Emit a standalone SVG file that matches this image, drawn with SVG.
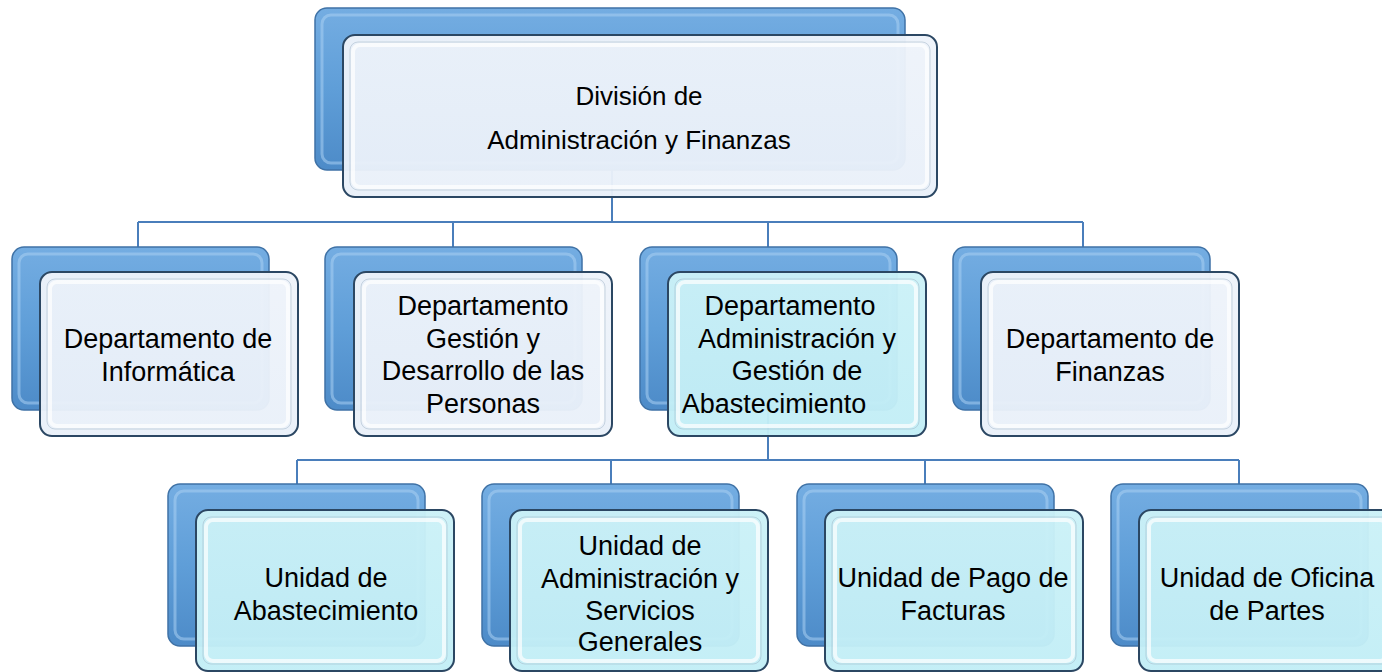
<svg xmlns="http://www.w3.org/2000/svg" width="1382" height="672" viewBox="0 0 1382 672">
<defs>
<linearGradient id="gBack" x1="0" y1="0" x2="0" y2="1">
<stop offset="0" stop-color="#74ade2"/>
<stop offset="0.5" stop-color="#5f9ed8"/>
<stop offset="1" stop-color="#4d8bc8"/>
</linearGradient>
<linearGradient id="gPale" x1="0" y1="0" x2="0" y2="1">
<stop offset="0" stop-color="#eef3fa"/>
<stop offset="1" stop-color="#e9f0f9"/>
</linearGradient>
<linearGradient id="gCyan" x1="0" y1="0" x2="0" y2="1">
<stop offset="0" stop-color="#cbf1f7"/>
<stop offset="1" stop-color="#c2eef6"/>
</linearGradient>
<style>
.back{fill:url(#gBack);stroke:#3f72a6;stroke-width:1.5}
.backhi{fill:none;stroke:#a9d0f2;stroke-width:3;opacity:0.55}
.frontP{fill:url(#gPale);fill-opacity:0.96;stroke:#2b4763;stroke-width:2}
.frontC{fill:url(#gCyan);fill-opacity:0.96;stroke:#2b4763;stroke-width:2}
.fronthi{fill:none;stroke:#ffffff;stroke-width:4;opacity:0.7}
.frontsh{fill:none;stroke:#9fb3c6;stroke-width:1;opacity:0.5}
.conn{fill:none;stroke:#4a7ebb;stroke-width:2}
.t{font-family:"Liberation Sans",Arial,sans-serif;font-size:27px;fill:#000;text-anchor:middle}
.tt{font-family:"Liberation Sans",Arial,sans-serif;font-size:26px;fill:#000;text-anchor:middle}
</style>
</defs>

<g id="connectors">
<path class="conn" d="M612,150 V222 M138,222 H1083 M138,222 V250 M453,222 V250 M768,222 V250 M1083,222 V250"/>
<path class="conn" d="M768,390 V460 M297,460 H1239 M297,460 V487 M611,460 V487 M925,460 V487 M1239,460 V487"/>
</g>

<g id="n-division">
<rect class="back" x="315" y="8" width="590" height="162" rx="12"/>
<rect class="backhi" x="322" y="15" width="576" height="148" rx="9"/>
<rect class="frontP" x="343" y="35" width="594" height="162" rx="12"/>
<rect class="frontsh" x="350" y="42" width="580" height="148" rx="8"/>
<rect class="fronthi" x="353" y="45" width="574" height="142" rx="7"/>
<text class="tt" x="639" y="105">División de</text>
<text class="tt" x="639" y="149">Administración y Finanzas</text>
</g>

<g id="n-informatica">
<rect class="back" x="12" y="247" width="257" height="163" rx="12"/>
<rect class="backhi" x="19" y="254" width="243" height="149" rx="9"/>
<rect class="frontP" x="40" y="272" width="258" height="164" rx="12"/>
<rect class="frontsh" x="47" y="279" width="244" height="150" rx="8"/>
<rect class="fronthi" x="50" y="282" width="238" height="144" rx="7"/>
<text class="t" x="168" y="348">Departamento de</text>
<text class="t" x="168" y="381">Informática</text>
</g>

<g id="n-personas">
<rect class="back" x="325" y="247" width="257" height="163" rx="12"/>
<rect class="backhi" x="332" y="254" width="243" height="149" rx="9"/>
<rect class="frontP" x="354" y="272" width="258" height="164" rx="12"/>
<rect class="frontsh" x="361" y="279" width="244" height="150" rx="8"/>
<rect class="fronthi" x="364" y="282" width="238" height="144" rx="7"/>
<text class="t" x="483" y="315">Departamento</text>
<text class="t" x="483" y="348">Gestión y</text>
<text class="t" x="483" y="380">Desarrollo de las</text>
<text class="t" x="483" y="413">Personas</text>
</g>

<g id="n-abastecimiento-dept">
<rect class="back" x="640" y="247" width="257" height="163" rx="12"/>
<rect class="backhi" x="647" y="254" width="243" height="149" rx="9"/>
<rect class="frontC" x="668" y="272" width="258" height="164" rx="12"/>
<rect class="frontsh" x="675" y="279" width="244" height="150" rx="8"/>
<rect class="fronthi" x="678" y="282" width="238" height="144" rx="7"/>
<text class="t" x="790" y="315">Departamento</text>
<text class="t" x="797" y="348">Administración y</text>
<text class="t" x="797" y="380">Gestión de</text>
<text class="t" x="774" y="413">Abastecimiento</text>
</g>

<g id="n-finanzas">
<rect class="back" x="953" y="247" width="257" height="163" rx="12"/>
<rect class="backhi" x="960" y="254" width="243" height="149" rx="9"/>
<rect class="frontP" x="981" y="272" width="258" height="164" rx="12"/>
<rect class="frontsh" x="988" y="279" width="244" height="150" rx="8"/>
<rect class="fronthi" x="991" y="282" width="238" height="144" rx="7"/>
<text class="t" x="1110" y="348">Departamento de</text>
<text class="t" x="1110" y="381">Finanzas</text>
</g>

<g id="n-u-abastecimiento">
<rect class="back" x="168" y="484" width="257" height="162" rx="12"/>
<rect class="backhi" x="175" y="491" width="243" height="148" rx="9"/>
<rect class="frontC" x="196" y="510" width="258" height="161" rx="12"/>
<rect class="frontsh" x="203" y="517" width="244" height="147" rx="8"/>
<rect class="fronthi" x="206" y="520" width="238" height="141" rx="7"/>
<text class="t" x="326" y="587">Unidad de</text>
<text class="t" x="326" y="620">Abastecimiento</text>
</g>

<g id="n-u-servicios">
<rect class="back" x="482" y="484" width="257" height="162" rx="12"/>
<rect class="backhi" x="489" y="491" width="243" height="148" rx="9"/>
<rect class="frontC" x="510" y="510" width="258" height="161" rx="12"/>
<rect class="frontsh" x="517" y="517" width="244" height="147" rx="8"/>
<rect class="fronthi" x="520" y="520" width="238" height="141" rx="7"/>
<text class="t" x="640" y="555">Unidad de</text>
<text class="t" x="640" y="588">Administración y</text>
<text class="t" x="640" y="620">Servicios</text>
<text class="t" x="640" y="651">Generales</text>
</g>

<g id="n-u-facturas">
<rect class="back" x="797" y="484" width="257" height="162" rx="12"/>
<rect class="backhi" x="804" y="491" width="243" height="148" rx="9"/>
<rect class="frontC" x="825" y="510" width="258" height="161" rx="12"/>
<rect class="frontsh" x="832" y="517" width="244" height="147" rx="8"/>
<rect class="fronthi" x="835" y="520" width="238" height="141" rx="7"/>
<text class="t" x="953" y="587">Unidad de Pago de</text>
<text class="t" x="953" y="620">Facturas</text>
</g>

<g id="n-u-partes">
<rect class="back" x="1111" y="484" width="257" height="162" rx="12"/>
<rect class="backhi" x="1118" y="491" width="243" height="148" rx="9"/>
<rect class="frontC" x="1139" y="510" width="258" height="161" rx="12"/>
<rect class="frontsh" x="1146" y="517" width="244" height="147" rx="8"/>
<rect class="fronthi" x="1149" y="520" width="238" height="141" rx="7"/>
<text class="t" x="1267" y="587">Unidad de Oficina</text>
<text class="t" x="1267" y="620">de Partes</text>
</g>
</svg>
